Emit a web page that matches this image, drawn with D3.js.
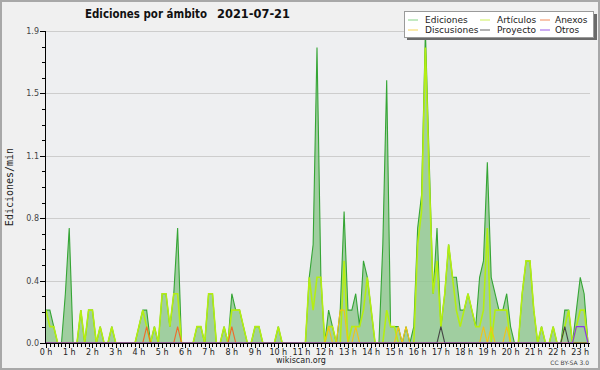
<!DOCTYPE html>
<html><head><meta charset="utf-8">
<script src="https://cdn.jsdelivr.net/npm/d3@7"></script>
<style>body{margin:0;background:#fff}svg{display:block}</style>
</head><body><svg id="c" width="600" height="370"></svg>
<script>
const titleText = "Ediciones por ámbito";
const dateText = "2021-07-21";
const yTitle = "Ediciones/min";
const hourLabels = ["0 h","1 h","2 h","3 h","4 h","5 h","6 h","7 h","8 h","9 h","10 h","11 h",
  "12 h","13 h","14 h","15 h","16 h","17 h","18 h","19 h","20 h","21 h","22 h","23 h"];
const yTickValues = [0, 0.38, 0.76, 1.14, 1.52, 1.9];
const yTickLabels = ["0.0","0.4","0.8","1.1","1.5","1.9"];
const seriesNames = ["Ediciones","Artículos","Anexos","Discusiones","Proyecto","Otros"];

// one value every 10 minutes, 00:00 .. 23:20
const ediciones = [
  0.2,0.2,0.1,0,0,0.3,0.7,0,0,0.2,0,0.2,
  0.2,0,0.1,0,0,0.1,0,0,0,0,0,0,
  0.1,0.2,0.2,0,0.1,0,0.3,0.3,0.1,0.3,0.7,0,
  0,0,0,0.1,0.1,0,0.3,0.3,0,0,0.1,0,
  0.3,0.2,0.2,0.1,0,0,0.1,0.1,0,0,0,0,
  0.1,0,0,0,0,0,0,0,0.4,0.6,1.8,0.4,
  0,0.2,0.1,0,0.2,0.8,0.2,0.2,0.3,0.1,0.5,0.4,
  0.2,0,0,0.6,1.6,0.1,0.1,0.1,0,0.1,0,0.1,
  0.7,0.9,1.9,1.1,0.3,0.7,0.1,0.3,0.6,0.4,0.4,0.2,
  0.2,0.3,0.2,0.1,0.4,0.5,1.1,0.4,0.3,0.2,0.2,0.3,
  0.1,0,0,0.3,0.5,0.5,0.2,0,0.1,0,0,0.1,
  0,0,0.2,0.2,0,0.2,0.4,0.3,0];
const articulos = [
  0.2,0.1,0.1,0,0,0,0,0,0,0.2,0,0.2,
  0.2,0,0.1,0,0,0.1,0,0,0,0,0,0,
  0.1,0.2,0.1,0,0.1,0,0.3,0.3,0.1,0.3,0.3,0,
  0,0,0,0.1,0.1,0,0.3,0.3,0,0,0.1,0,
  0.2,0.2,0.2,0.1,0,0,0.1,0.1,0,0,0,0,
  0.1,0,0,0,0,0,0,0,0.4,0.2,0.4,0.4,
  0,0.1,0.1,0,0,0.5,0,0.1,0.1,0.1,0.2,0.4,
  0.2,0,0,0,0.2,0.1,0.1,0,0,0,0,0,
  0.6,0.8,1.8,1.0,0.3,0.5,0.1,0.3,0.6,0.4,0.2,0.1,
  0.2,0.3,0.2,0.1,0.1,0.2,0.7,0,0.2,0.2,0.2,0.2,
  0,0,0,0.3,0.5,0.5,0.2,0,0.1,0,0,0.1,
  0,0,0.1,0.2,0,0.1,0.2,0.2,0];
const anexos = [
  0,0,0,0,0,0,0,0,0,0,0,0,
  0,0,0,0,0,0,0,0,0,0,0,0,
  0,0,0.1,0,0,0,0,0,0,0,0.1,0,
  0,0,0,0,0,0,0,0,0,0,0,0,
  0.1,0,0,0,0,0,0,0,0,0,0,0,
  0,0,0,0,0,0,0,0,0,0,0,0,
  0,0,0,0,0,0,0,0,0,0,0,0,
  0,0,0,0,0,0,0,0,0,0,0,0,
  0,0,0,0,0,0,0,0,0,0,0,0,
  0,0,0,0,0,0,0,0,0,0,0,0,
  0,0,0,0,0,0,0,0,0,0,0,0,
  0,0,0,0,0,0,0,0,0];
const discusiones = [
  0,0,0,0,0,0,0,0,0,0,0,0,
  0,0,0,0,0,0,0,0,0,0,0,0,
  0,0,0,0,0,0,0,0,0,0,0,0,
  0,0,0,0,0,0,0,0,0,0,0,0,
  0,0,0,0,0,0,0,0,0,0,0,0,
  0,0,0,0,0,0,0,0,0,0,0,0,
  0,0.1,0,0,0.2,0.2,0,0,0.1,0,0,0,
  0,0,0,0,0,0,0,0.1,0,0.1,0,0,
  0,0,0,0,0,0,0,0,0,0,0,0,
  0,0,0,0,0,0.1,0,0.1,0,0,0,0.1,
  0,0,0,0,0,0,0,0,0,0,0,0,
  0,0,0,0,0,0,0,0,0];
const proyecto = [
  0,0,0,0,0,0,0,0,0,0,0,0,
  0,0,0,0,0,0,0,0,0,0,0,0,
  0,0,0,0,0,0,0,0,0,0,0,0,
  0,0,0,0,0,0,0,0,0,0,0,0,
  0,0,0,0,0,0,0,0,0,0,0,0,
  0,0,0,0,0,0,0,0,0,0,0,0,
  0,0,0,0,0,0,0,0,0,0,0,0,
  0,0,0,0,0,0,0,0,0,0,0,0,
  0,0,0,0,0,0,0.1,0,0,0,0,0,
  0,0,0,0,0,0,0,0,0,0,0,0,
  0,0,0,0,0,0,0,0,0,0,0,0,
  0,0,0.1,0,0,0,0,0,0];
const otros = [
  0,0,0,0,0,0,0,0,0,0,0,0,
  0,0,0,0,0,0,0,0,0,0,0,0,
  0,0,0,0,0,0,0,0,0,0,0,0,
  0,0,0,0,0,0,0,0,0,0,0,0,
  0,0,0,0,0,0,0,0,0,0,0,0,
  0,0,0,0,0,0,0,0,0,0,0,0,
  0,0,0,0,0,0,0,0,0,0,0,0,
  0,0,0,0,0,0,0,0,0,0,0,0,
  0,0,0,0,0,0,0,0,0,0,0,0,
  0,0,0,0,0,0,0,0,0,0,0,0,
  0,0,0,0,0,0,0,0,0,0,0,0,
  0,0,0,0,0,0.1,0.1,0.1,0];

const svg = d3.select("#c");
const W = 600, H = 370;
const L = 45, R = 590, T = 31, B = 343;
const n = ediciones.length;
const x = d3.scaleLinear().domain([0, n - 1]).range([46, 588]);
const y = d3.scaleLinear().domain([0, 1.9]).range([B, T]);

svg.append("rect").attr("width", W).attr("height", H).attr("fill", "#f0f0f0");
svg.append("rect").attr("x", 1).attr("y", 1).attr("width", W - 2).attr("height", H - 2)
  .attr("fill", "none").attr("stroke", "#a8a8a8").attr("stroke-width", 2);
svg.append("rect").attr("x", L).attr("y", T).attr("width", R - L).attr("height", B - T).attr("fill", "#eeeff1");

// grid
svg.append("g").selectAll("line").data(yTickValues.slice(1)).join("line")
  .attr("x1", L).attr("x2", R)
  .attr("y1", d => Math.round(y(d)) + 0.5).attr("y2", d => Math.round(y(d)) + 0.5)
  .attr("stroke", "#cdcdcd").attr("stroke-width", 1);

const area = d3.area().x((d, i) => x(i)).y0(y(0)).y1(d => y(d));
const line = d3.line().x((d, i) => x(i)).y(d => y(d));

svg.append("path").datum(ediciones).attr("d", area).attr("fill", "#8cc68c").attr("fill-opacity", 0.8);
svg.append("path").datum(ediciones).attr("d", line).attr("fill", "none").attr("stroke", "#35a535").attr("stroke-width", 1.1);

const others = [
  {data: articulos, color: "#b4ee12", w: 1.6},
  {data: anexos, color: "#f06a28", w: 1.1},
  {data: discusiones, color: "#f2c416", w: 1.1},
  {data: proyecto, color: "#444444", w: 1.1},
  {data: otros, color: "#8a3ae6", w: 1.2}
];
others.forEach(s => {
  svg.append("path").datum(s.data).attr("d", line).attr("fill", "none")
    .attr("stroke", s.color).attr("stroke-width", s.w).attr("stroke-linejoin", "miter");
});

// axes
const yMinor = d3.range(0, 1.9 + 1e-9, 0.095);
svg.append("g").selectAll("line").data(yMinor).join("line")
  .attr("x1", (d, i) => i % 4 === 0 ? 40 : 42).attr("x2", L)
  .attr("y1", d => Math.round(y(d)) + 0.5).attr("y2", d => Math.round(y(d)) + 0.5)
  .attr("stroke", "#000");
svg.append("line").attr("x1", L + 0.5).attr("x2", L + 0.5).attr("y1", T).attr("y2", B + 1).attr("stroke", "#000");
svg.append("line").attr("x1", L).attr("x2", R).attr("y1", B + 0.5).attr("y2", B + 0.5).attr("stroke", "#000");
svg.append("g").selectAll("line").data(d3.range(n)).join("line")
  .attr("x1", d => Math.round(x(d)) + 0.5).attr("x2", d => Math.round(x(d)) + 0.5)
  .attr("y1", B).attr("y2", d => d % 6 === 0 ? B + 5 : B + 4)
  .attr("stroke", "#000");

svg.append("g").selectAll("text").data(yTickValues).join("text")
  .attr("x", 39).attr("y", d => y(d) + 3)
  .attr("text-anchor", "end").attr("font-family", "DejaVu Sans").attr("font-size", 8)
  .attr("fill", "#444").text((d, i) => yTickLabels[i]);

svg.append("g").selectAll("text").data(hourLabels).join("text")
  .attr("x", (d, i) => x(i * 6)).attr("y", 355)
  .attr("text-anchor", "middle").attr("font-family", "DejaVu Sans").attr("font-size", 8)
  .attr("fill", "#222").text(d => d);

svg.append("text").attr("transform", "translate(13,187) rotate(-90)")
  .attr("text-anchor", "middle").attr("font-family", "DejaVu Sans Mono").attr("font-size", 10)
  .attr("fill", "#222").text(yTitle);

// title
const tt = svg.append("text").attr("y", 18).attr("font-family", "DejaVu Sans").attr("font-weight", "bold")
  .attr("font-size", 11.5).attr("fill", "#111");
tt.append("tspan").attr("x", 85).attr("textLength", 122).attr("lengthAdjust", "spacingAndGlyphs").text(titleText);
tt.append("tspan").attr("x", 217).attr("textLength", 73).attr("lengthAdjust", "spacingAndGlyphs").text(dateText);

// footer
svg.append("text").attr("x", 301).attr("y", 363).attr("text-anchor", "middle")
  .attr("font-family", "DejaVu Sans").attr("font-size", 8).attr("fill", "#222").text("wikiscan.org");
svg.append("text").attr("x", 589).attr("y", 365).attr("text-anchor", "end")
  .attr("font-family", "DejaVu Sans").attr("font-size", 6).attr("fill", "#444").text("CC BY-SA 3.0");

// legend
const lg = svg.append("g");
lg.append("rect").attr("x", 407).attr("y", 14).attr("width", 190).attr("height", 26).attr("fill", "#6a6a6a");
lg.append("rect").attr("x", 404.5).attr("y", 11.5).attr("width", 189).attr("height", 26)
  .attr("fill", "#ffffff").attr("stroke", "#9a9a9a");
const legendColors = ["#86d486","#cdf05a","#f28a5a","#f5d55a","#666666","#9a5ae8"];
const legendPos = [[408,425,19.5],[480,497,19.5],[540,555,19.5],[408,425,29.5],[480,497,29.5],[540,555,29.5]];
const legendOrder = [0,1,2,3,4,5];
legendOrder.forEach((k, j) => {
  const p = legendPos[j];
  lg.append("line").attr("x1", p[0]).attr("x2", p[0] + 10).attr("y1", p[2] + 0.5).attr("y2", p[2] + 0.5)
    .attr("stroke", legendColors[k]).attr("stroke-width", 1);
  lg.append("text").attr("x", p[1]).attr("y", p[2] + 3.5).attr("font-family", "DejaVu Sans")
    .attr("font-size", 9).attr("fill", "#222").text(seriesNames[k]);
});
</script></body></html>
